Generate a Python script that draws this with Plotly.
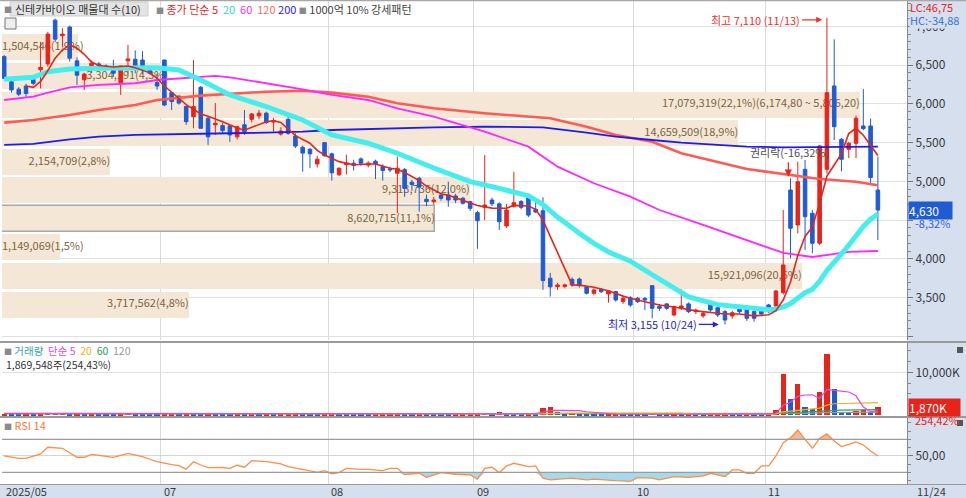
import plotly.graph_objects as go

W, H = 966, 498
FONT = "Noto Sans CJK KR"
RED = "#e8231a"
BLUE = "#1f5bd3"
PANEL = "#d5dfee"

# daily candles, index 0 = last days of 2025/05, last = 11/24
opens = [6610, 6285, 6190, 6230, 6315, 6440, 6515, 7080, 6880, 6990,
         6555, 6310, 6440, 6515, 6490, 6470, 6275, 6555, 6575, 6565,
         6470, 6275, 6565, 6145, 6100, 5965, 5835, 6215, 5815, 5730,
         5720, 5715, 5575, 5730, 5800, 5845, 5880, 5765, 5610, 5800,
         5585, 5440, 5415, 5225, 5500, 5355, 5085, 5215, 5235, 5290,
         5210, 5260, 5190, 5160, 5105, 5155, 4990, 5040, 4770, 4738,
         4825, 4825, 4812, 4782, 4738, 4597, 4665, 4760, 4710, 4425,
         4680, 4740, 4810, 4640, 4622, 3750, 3642, 3645, 3737, 3740,
         3640, 3557, 3608, 3548, 3578, 3450, 3500, 3492, 3490, 3655,
         3385, 3420, 3277, 3363, 3420, 3320, 3265, 3428, 3370, 3320,
         3264, 3393, 3385, 3320, 3350, 3406, 3393, 3565, 4889, 4438,
         5156, 4589, 4202, 5156, 6231, 5543, 5414, 5492, 5715, 5715,
         4889]
highs = [6630, 6335, 6215, 6260, 6340, 6800, 6930, 7100, 6975, 7010,
         6600, 6400, 6560, 6540, 6510, 6570, 6500, 6760, 6690, 6680,
         6490, 6390, 6570, 6150, 6110, 5980, 6565, 6230, 5830, 6010,
         5760, 5730, 5720, 5920, 5880, 5920, 5900, 5820, 5700, 5830,
         5620, 5460, 5430, 5330, 5510, 5370, 5180, 5345, 5280, 5310,
         5260, 5280, 5220, 5190, 5320, 5170, 5020, 5060, 4830, 4800,
         4850, 4996, 4840, 4800, 4750, 4620, 5340, 4790, 4730, 4710,
         5125, 4760, 4820, 4782, 4795, 3820, 3690, 3680, 3760, 3760,
         3650, 3620, 3620, 3600, 3590, 3520, 3520, 3510, 3510, 3660,
         3420, 3430, 3400, 3608, 3440, 3360, 3320, 3440, 3400, 3340,
         3330, 3410, 3400, 3350, 3370, 3420, 3600, 4630, 5040, 5255,
         5276, 4630, 5470, 7110, 6833, 5560, 5510, 5850, 6190, 5810,
         5320]
lows = [6320, 6145, 6100, 6090, 6240, 6200, 6480, 6800, 6730, 6545,
        6245, 6180, 6400, 6440, 6440, 6350, 6115, 6395, 6395, 6390,
        6380, 6180, 5970, 5920, 5990, 5730, 5685, 5680, 5470, 5600,
        5620, 5510, 5540, 5600, 5760, 5800, 5740, 5640, 5590, 5600,
        5430, 5125, 5170, 5180, 5320, 5010, 5070, 5090, 5140, 5200,
        5180, 5030, 5010, 5120, 4590, 4800, 4880, 4610, 4680, 4700,
        4750, 4674, 4720, 4700, 4620, 4130, 4500, 4680, 4373, 4400,
        4660, 4640, 4540, 4590, 3600, 3513, 3600, 3620, 3640, 3630,
        3540, 3530, 3560, 3435, 3450, 3420, 3380, 3430, 3341, 3234,
        3330, 3340, 3260, 3340, 3300, 3290, 3240, 3320, 3250, 3155,
        3230, 3290, 3200, 3190, 3260, 3300, 3320, 3540, 4008, 4330,
        4115, 4073, 4180, 5100, 5534, 5130, 5300, 5300, 5660, 4980,
        4244]
closes = [6330, 6180, 6125, 6135, 6265, 6470, 6900, 6835, 6900, 6590,
          6370, 6385, 6525, 6470, 6455, 6395, 6490, 6580, 6470, 6470,
          6395, 6230, 5985, 6030, 6010, 5770, 5965, 5685, 5575, 5750,
          5655, 5600, 5705, 5640, 5870, 5880, 5760, 5785, 5650, 5620,
          5455, 5365, 5355, 5285, 5330, 5110, 5170, 5235, 5205, 5235,
          5235, 5225, 5140, 5150, 5170, 4910, 4960, 4925, 4740, 4760,
          4782, 4760, 4760, 4718, 4653, 4493, 4695, 4710, 4480, 4630,
          4725, 4665, 4565, 4605, 3720, 3640, 3664, 3665, 3664, 3655,
          3557, 3600, 3578, 3586, 3470, 3492, 3405, 3448, 3470, 3363,
          3363, 3363, 3385, 3393, 3320, 3340, 3300, 3341, 3277, 3212,
          3306, 3320, 3234, 3234, 3290, 3320, 3586, 3922, 4395, 4996,
          4545, 4202, 5457, 6145, 5706, 5285, 5492, 5814, 5680, 5050,
          4630]
# volume in thousand shares
volumes = [420, 380, 300, 350, 280, 450, 520, 480, 500, 400,
           450, 320, 400, 300, 260, 250, 380, 520, 330, 300,
           280, 240, 420, 420, 300, 450, 380, 350, 380, 300,
           250, 240, 300, 260, 280, 220, 240, 200, 230, 260,
           300, 280, 240, 220, 260, 380, 300, 220, 180, 170,
           160, 190, 200, 210, 420, 380, 240, 260, 200, 180,
           170, 160, 190, 200, 230, 350, 620, 260, 700, 380,
           300, 280, 360, 220, 1800, 2000, 700, 420, 650, 300,
           260, 220, 200, 240, 260, 200, 190, 180, 170, 520,
           240, 210, 260, 230, 250, 200, 190, 210, 230, 300,
           260, 240, 280, 250, 240, 420, 1160, 9700, 3720, 7200,
           1930, 1400, 5420, 14190, 6200, 800, 650, 900, 1150, 735,
           1870]

# price moving averages (index, value)
ma5_idx = [3, 4, 5, 6, 7, 8, 9, 10, 11, 12, 13, 15, 17, 18, 20, 21, 22, 23, 24, 25,
           27, 28, 30, 31, 32, 33, 34, 36, 37, 38, 40, 41, 42, 43, 44, 46, 47, 48, 50, 51,
           53, 54, 55, 57, 58, 60, 61, 62, 64, 65, 67, 69, 70, 72, 73, 74, 78, 79, 81, 83,
           85, 86, 88, 90, 92, 95, 99, 101, 103, 105, 106, 107, 108, 109, 110, 111, 112, 113, 114, 115,
           116, 117, 118, 119, 120]
ma5_val = [6230, 6214, 6290, 6430, 6588, 6695, 6760, 6717, 6640, 6540, 6495, 6475, 6489, 6465, 6400, 6330, 6230, 6150, 6080, 5990,
           5870, 5840, 5770, 5728, 5690, 5660, 5700, 5770, 5783, 5760, 5590, 5540, 5492, 5400, 5340, 5255, 5234, 5215, 5225, 5225,
           5170, 5156, 5115, 5010, 4940, 4840, 4820, 4790, 4720, 4690, 4655, 4653, 4690, 4683, 4640, 4500, 3665, 3662, 3635, 3590,
           3520, 3492, 3448, 3406, 3380, 3330, 3290, 3290, 3265, 3280, 3333, 3470, 3703, 4044, 4289, 4412, 4719, 5069, 5211, 5359,
           5617, 5688, 5595, 5464, 5333]
ma20_idx = [0, 4, 6, 9, 13, 18, 21, 24, 27, 31, 36, 41, 45, 50, 54, 59, 64, 67, 72, 74,
            76, 79, 81, 83, 86, 90, 94, 98, 102, 105, 106, 107, 108, 109, 110, 111, 112, 113, 114, 115,
            116, 117, 118, 119, 120]
ma20_val = [6317, 6343, 6415, 6450, 6459, 6459, 6467, 6437, 6308, 6115, 5964, 5792, 5599, 5492, 5363, 5173, 4996, 4932, 4815, 4700,
            4540, 4330, 4200, 4090, 3970, 3740, 3510, 3410, 3370, 3345, 3354, 3380, 3425, 3505, 3565, 3607, 3712, 3850, 3969, 4066,
            4176, 4300, 4420, 4512, 4580]
ma60_idx = [0, 4, 6, 9, 13, 18, 21, 27, 29, 31, 36, 41, 45, 50, 54, 59, 66, 72, 76, 81,
            86, 90, 96, 102, 107, 111, 116, 120]
ma60_val = [6050, 6093, 6145, 6214, 6244, 6266, 6308, 6351, 6360, 6343, 6266, 6188, 6115, 6050, 5943, 5835, 5641, 5448, 5190, 4976,
            4803, 4631, 4438, 4244, 4077, 4025, 4090, 4102]
ma120_idx = [0, 4, 9, 13, 18, 21, 27, 31, 36, 41, 45, 50, 54, 59, 66, 75, 80, 84, 89, 93,
             98, 102, 108, 112, 117, 120]
ma120_val = [5758, 5792, 5857, 5921, 5986, 6050, 6106, 6128, 6157, 6170, 6145, 6093, 6008, 5943, 5879, 5814, 5706, 5599, 5512, 5363,
             5254, 5160, 5083, 5030, 4996, 4950]
ma200_idx = [0, 4, 9, 13, 18, 22, 27, 31, 36, 41, 45, 50, 54, 59, 66, 74, 80, 84, 89, 93,
             98, 102, 107, 111, 114, 120]
ma200_val = [5470, 5483, 5543, 5577, 5599, 5608, 5621, 5621, 5629, 5641, 5663, 5676, 5685, 5698, 5706, 5698, 5629, 5577, 5534, 5500,
             5470, 5448, 5440, 5440, 5448, 5448]

# volume moving averages (K)
vma5_idx = [0, 20, 40, 60, 70, 73, 74, 75, 76, 78, 79, 80, 84, 90, 100, 104, 105, 106, 107, 108,
            109, 110, 111, 112, 113, 114, 115, 116, 117, 118, 119, 120]
vma5_val = [450, 380, 260, 190, 330, 390, 720, 1120, 1170, 1240, 1110, 840, 280, 260, 250, 250, 290, 480, 2370, 3050,
            4440, 4740, 4790, 3930, 6030, 5830, 5600, 5450, 4550, 1940, 850, 1060]
vma20_idx = [0, 30, 60, 73, 74, 75, 78, 93, 95, 105, 106, 107, 108, 109, 110, 112, 113, 114, 120]
vma20_val = [450, 380, 250, 280, 360, 450, 500, 500, 290, 290, 330, 800, 980, 1330, 1420, 1700, 2400, 2700, 2950]
vma60_idx = [0, 60, 105, 107, 110, 113, 115, 120]
vma60_val = [420, 300, 360, 520, 760, 1100, 1200, 1330]
vma120_idx = [0, 105, 110, 113, 120]
vma120_val = [380, 350, 470, 640, 730]

# RSI 14
rsi_idx = [0, 2, 3, 5, 6, 8, 10, 11, 12, 13, 15, 17, 19, 20, 21, 23, 24, 25, 26, 27,
           28, 30, 31, 32, 33, 34, 36, 38, 39, 42, 43, 44, 45, 46, 47, 49, 50, 52, 53, 54,
           55, 57, 58, 60, 62, 64, 65, 66, 67, 68, 69, 70, 71, 72, 73, 74, 75, 76, 78, 80,
           81, 84, 86, 87, 89, 90, 92, 94, 96, 97, 98, 99, 100, 101, 102, 103, 104, 105, 106, 107,
           108, 109, 110, 111, 112, 113, 114, 115, 116, 117, 118, 119, 120]
rsi_val = [50, 47, 47, 52.4, 60.5, 59.3, 48.4, 48.4, 52, 50.8, 48.4, 53.2, 49.2, 46, 43, 39.5, 38.3, 34, 43, 39,
           35.8, 36, 35, 38.7, 36.3, 44.3, 43, 40.3, 37, 31.8, 30.2, 32.2, 28.2, 29.8, 35, 33.8, 33.8, 32.2, 35, 35,
           27.3, 29, 24.2, 29.8, 27.8, 27, 21.8, 35, 36.3, 29.8, 37.9, 41.1, 39, 37, 38, 23, 21, 21.8, 23, 21,
           22, 20, 19.3, 23.7, 23, 21, 25, 24, 25.8, 29, 27, 25, 33, 33, 29, 29, 37.9, 38, 50, 66,
           72, 81.5, 70, 59.3, 71.4, 76.7, 68, 61.3, 64, 67, 63.3, 56, 50]

# 매물대 (10 price bins)
pv_lower = [3226.0, 3594.6, 3963.2, 4331.8, 4700.4, 5069.0, 5437.6, 5806.2, 6174.8, 6543.4]
pv_volume = [3717562, 15921096, 1149069, 8620715, 9313736, 2154709, 14659509, 17079319, 3304191, 1504546]
pv_pct = [4.8, 20.6, 1.5, 11.1, 12.0, 2.8, 18.9, 22.1, 4.3, 1.9]
pv_current = 3

month_first = [22, 45, 65, 87, 105]
month_names = ["07", "08", "09", "10", "11"]

n = len(closes)
xs = list(range(n))
pv_step = pv_lower[1] - pv_lower[0]
pv_max = max(pv_volume)


def kr(v, nd=2):
    return f"{v:,.{nd}f}".replace(",", "#").replace(".", ",").replace("#", ",")


def py(px):
    return 1 - px / H


def pxx(px):
    return px / W


fig = go.Figure()

# volume profile on the base subplot
pv_mid = [lo + pv_step / 2 for lo in pv_lower]
pv_text = []
for k, (v, p) in enumerate(zip(pv_volume, pv_pct)):
    t = f"{v:,}({kr(p, 1)}%)"
    if k == pv_volume.index(pv_max):
        t += f"({kr(pv_lower[k] + pv_step)} ~ {kr(pv_lower[k])})"
    pv_text.append(t)
fig.add_trace(go.Bar(
    x=pv_volume, y=pv_mid, orientation="h", width=pv_step * 0.91, base=0,
    marker=dict(color="#f5e7d5",
                line=dict(color=["#a8a8a8" if k == pv_current else "#f5e7d5" for k in range(len(pv_volume))],
                          width=[1.5 if k == pv_current else 0 for k in range(len(pv_volume))])),
    xaxis="x", yaxis="y", hoverinfo="skip"))
short = [v / pv_max < 0.11 for v in pv_volume]
fig.add_trace(go.Scatter(
    x=[0 if s else v for v, s in zip(pv_volume, short)], y=pv_mid, mode="text", text=pv_text,
    textposition=["middle right" if s else "middle left" for s in short],
    textfont=dict(family=FONT, size=11, color="#7b6544"),
    xaxis="x", yaxis="y", hoverinfo="skip", cliponaxis=False))

# moving averages + candles on the overlay subplot
for idx, val, col, wd in [(ma120_idx, ma120_val, "#ff5b52", 2.6),
                          (ma200_idx, ma200_val, "#1b1bf5", 1.8),
                          (ma60_idx, ma60_val, "#ff26ff", 1.8),
                          (ma20_idx, ma20_val, "#45eeee", 5)]:
    fig.add_trace(go.Scatter(x=idx, y=val, mode="lines", line=dict(color=col, width=wd),
                             xaxis="x5", yaxis="y", hoverinfo="skip"))
fig.add_trace(go.Candlestick(
    x=xs, open=opens, high=highs, low=lows, close=closes,
    increasing=dict(line=dict(color=RED, width=1), fillcolor=RED),
    decreasing=dict(line=dict(color=BLUE, width=1), fillcolor=BLUE),
    whiskerwidth=0, xaxis="x5", yaxis="y", hoverinfo="skip"))
fig.add_trace(go.Scatter(x=ma5_idx, y=ma5_val, mode="lines", line=dict(color=RED, width=1.6),
                         xaxis="x5", yaxis="y", hoverinfo="skip"))

# volume panel
vcol = [RED if i == 0 or volumes[i] >= volumes[i - 1] else BLUE for i in range(n)]
fig.add_trace(go.Bar(x=xs, y=volumes, marker=dict(color=vcol, line=dict(width=0)), width=0.72,
                     xaxis="x2", yaxis="y2", hoverinfo="skip"))
for idx, val, col in [(vma120_idx, vma120_val, "#9a9a9a"), (vma60_idx, vma60_val, "#2f9e5c"),
                      (vma20_idx, vma20_val, "#f2b126"), (vma5_idx, vma5_val, "#e048d8")]:
    fig.add_trace(go.Scatter(x=idx, y=val, mode="lines", line=dict(color=col, width=1.2),
                             xaxis="x2", yaxis="y2", hoverinfo="skip"))

# RSI panel
fig.add_trace(go.Scatter(x=rsi_idx, y=[70] * len(rsi_idx), mode="lines", line=dict(width=0),
                         xaxis="x3", yaxis="y3", hoverinfo="skip"))
fig.add_trace(go.Scatter(x=rsi_idx, y=[max(v, 70) for v in rsi_val], mode="lines", line=dict(width=0),
                         fill="tonexty", fillcolor="#f3b898", xaxis="x3", yaxis="y3", hoverinfo="skip"))
fig.add_trace(go.Scatter(x=rsi_idx, y=[30] * len(rsi_idx), mode="lines", line=dict(width=0),
                         xaxis="x3", yaxis="y3", hoverinfo="skip"))
fig.add_trace(go.Scatter(x=rsi_idx, y=[min(v, 30) for v in rsi_val], mode="lines", line=dict(width=0),
                         fill="tonexty", fillcolor="#a5daee", xaxis="x3", yaxis="y3", hoverinfo="skip"))
fig.add_trace(go.Scatter(x=rsi_idx, y=rsi_val, mode="lines", line=dict(color="#ff8d45", width=1.3),
                         xaxis="x3", yaxis="y3", hoverinfo="skip"))

xdom = [pxx(2), pxx(907)]
xr = [-0.3, 124.0]
bounds = [m - 0.5 for m in month_first]
grid = "#dadada"
tickfont = dict(family=FONT, size=12, color="#3a3a3a")
common_x = dict(domain=xdom, range=xr, tickvals=bounds, showgrid=True, gridcolor=grid, gridwidth=1,
                showticklabels=False, ticks="", zeroline=False, showline=False)
common_y = dict(side="right", ticks="outside", ticklen=5, tickcolor="#777", showline=True,
                linecolor="#8a8a8a", linewidth=1, tickfont=tickfont, zeroline=False, gridcolor="#e0e0e0")

price_ticks = [3000, 3500, 4000, 4500, 5000, 5500, 6000, 6500, 7000]
price_text = ["" if t in (3000, 4500) else f"{t:,}" for t in price_ticks]

fig.update_layout(
    width=W, height=H, margin=dict(l=0, r=0, t=0, b=0),
    paper_bgcolor="white", plot_bgcolor="white", showlegend=False, hovermode=False,
    bargap=0,
    xaxis=dict(domain=xdom, range=[0, pv_max * 1.055], visible=False, anchor="y", fixedrange=True),
    xaxis5=dict(common_x, overlaying="x", anchor="y", rangeslider=dict(visible=False)),
    yaxis=dict(common_y, domain=[py(340), py(1)], range=[2954, 7327], anchor="x",
               tickvals=price_ticks, ticktext=price_text,
               minor=dict(dtick=100, ticklen=3, tickcolor="#888", ticks="outside", showgrid=False)),
    xaxis2=dict(common_x, anchor="y2"),
    yaxis2=dict(common_y, domain=[py(416), py(343)], range=[-150, 16860], anchor="x2",
                tickvals=[10000], ticktext=["10,000K"],
                minor=dict(dtick=2500, ticklen=3, tickcolor="#888", ticks="outside", showgrid=False)),
    xaxis3=dict(common_x, anchor="y3"),
    yaxis3=dict(common_y, domain=[py(484), py(418)], range=[16, 96], anchor="x3",
                tickvals=[50], ticktext=["50,00"], gridcolor="#d4d4d4",
                minor=dict(dtick=10, ticklen=3, tickcolor="#888", ticks="outside", showgrid=False)),
)

shapes = [
    dict(type="rect", xref="paper", yref="paper", x0=pxx(907), x1=1, y0=0, y1=1,
         fillcolor=PANEL, line=dict(width=0), layer="below"),
    dict(type="rect", xref="paper", yref="paper", x0=0, x1=1, y0=0, y1=py(484),
         fillcolor=PANEL, line=dict(width=0), layer="below"),
    dict(type="line", xref="paper", yref="paper", x0=0, x1=1, y0=py(0.5), y1=py(0.5),
         line=dict(color="#a8a8a8", width=1.5)),
    dict(type="line", xref="paper", yref="paper", x0=0, x1=1, y0=py(342), y1=py(342),
         line=dict(color="#9a9a9a", width=2)),
    dict(type="line", xref="paper", yref="paper", x0=0, x1=1, y0=py(417), y1=py(417),
         line=dict(color="#9a9a9a", width=2)),
    dict(type="line", xref="paper", yref="paper", x0=0, x1=1, y0=py(484.5), y1=py(484.5),
         line=dict(color="#9a9a9a", width=1)),
    dict(type="line", xref="paper", yref="y3", x0=xdom[0], x1=xdom[1], y0=70, y1=70,
         line=dict(color="#9c9c9c", width=1.2)),
    dict(type="line", xref="paper", yref="y3", x0=xdom[0], x1=xdom[1], y0=30, y1=30,
         line=dict(color="#9c9c9c", width=1.2)),
    # small header icon and panel close boxes
    dict(type="rect", xref="paper", yref="paper", x0=pxx(5), x1=pxx(16), y0=py(29), y1=py(18),
         fillcolor="#eeeeee", line=dict(color="#777", width=1)),
    dict(type="rect", xref="paper", yref="paper", x0=pxx(10), x1=pxx(148), y0=py(16), y1=py(2),
         fillcolor="#e4e4e4", line=dict(color="#cfcfcf", width=1), layer="below"),
    dict(type="rect", xref="paper", yref="paper", x0=pxx(957), x1=pxx(963), y0=py(353), y1=py(347),
         fillcolor="#555", line=dict(width=0)),
    dict(type="rect", xref="paper", yref="paper", x0=pxx(957), x1=pxx(963), y0=py(426), y1=py(420),
         fillcolor="#555", line=dict(width=0)),
]
fig.update_layout(shapes=shapes)

ann = []


def text(x, y, s, color="#333", size=11, anchor="left", xref="paper", yref="paper", **kw):
    ann.append(dict(x=x, y=y, xref=xref, yref=yref, text=s, showarrow=False, xanchor=anchor,
                    yanchor="middle", font=dict(family=FONT, size=size, color=color), **kw))


sq = '<span style="color:#8a8a8a;font-size:8px">■</span>'
text(pxx(2), py(9), sq, size=8)
text(pxx(13), py(9), "신테카바이오 매물대 수(10)", color="#333", size=11)
text(pxx(154), py(9),
     sq + ' <span style="color:#e8231a">종가 단순 5</span>  <span style="color:#35d8e0">20</span>'
     '  <span style="color:#ff2cff">60</span>  <span style="color:#ff6a60">120</span>'
     ' <span style="color:#1b1bf5">200</span> ' + sq + ' <span style="color:#444">1000억 10% 강세패턴</span>',
     size=11)
text(pxx(2), py(350.5), sq + ' <span style="color:#3aa3a8">거래량</span>  <span style="color:#e048d8">단순 5</span>'
     '  <span style="color:#f2b126">20</span>  <span style="color:#2f9e5c">60</span>'
     '  <span style="color:#999">120</span>', size=10.5)
text(pxx(4), py(364), "1,869,548주(254,43%)", color="#333", size=10.5)
text(pxx(2), py(425), sq + ' <span style="color:#ff7a30">RSI 14</span>', size=11)

# x axis labels
text(xr[0], py(491), "2025/05", xref="x3", color="#3a3a3a", size=11, xshift=2)
for b, m in zip(bounds, month_names):
    text(b, py(491), m, xref="x3", color="#3a3a3a", size=11, xshift=1)
text(pxx(931), py(491), "11/24", anchor="center", color="#3a3a3a", size=11)

# right axis tags
text(pxx(909), py(19.5), "HC:-34,88", color="#3b6fe0", size=11, bgcolor=PANEL, borderpad=0)
text(pxx(909), py(7), "LC:46,75", color="#e8231a", size=11, borderpad=0)
prev_close = closes[-2]
last = closes[-1]
text(pxx(908), last, f"{last:,}" + "&nbsp;" * 5, yref="y", color="white", size=12,
     bgcolor="#1f5bd3", borderpad=0)
text(pxx(913), last, f"{(last / prev_close - 1) * 100:.2f}%".replace(".", ","), yref="y",
     color="#2f62dc", size=11, yshift=-13)
text(pxx(908), volumes[-1], f"{volumes[-1]:,}K" + "&nbsp;" * 5, yref="y2", color="white", size=12,
     bgcolor="#e8231a", borderpad=0)
text(pxx(913), volumes[-1], f"{volumes[-1] / volumes[-2] * 100:.2f}%".replace(".", ","), yref="y2",
     color="#e8231a", size=11, yshift=-13)

# high / low / ex-rights marks
hi_i = highs.index(max(highs))
lo_i = lows.index(min(lows))
ann.append(dict(x=hi_i - 0.65, y=max(highs), xref="x5", yref="y", ax=-20, ay=0, axref="pixel", ayref="pixel",
                text=f"최고 {max(highs):,} (11/13)", showarrow=True, arrowhead=2, arrowsize=1, arrowwidth=1.2,
                arrowcolor="#f0302a", xanchor="right", yshift=-2,
                font=dict(family=FONT, size=11, color="#f0302a")))
ann.append(dict(x=lo_i - 0.85, y=min(lows), xref="x5", yref="y", ax=-20, ay=0,
                text=f"최저 {min(lows):,} (10/24)", showarrow=True, arrowhead=2, arrowsize=1, arrowwidth=1.2,
                arrowcolor="#2424e0", xanchor="right",
                font=dict(family=FONT, size=11, color="#2424e0")))
ann.append(dict(x=107.7, y=highs[108] + 20, xref="x5", yref="y", ax=0, ay=-16, text="",
                showarrow=True, arrowhead=2, arrowsize=1.2, arrowwidth=1.2, arrowcolor="#e8231a"))
text(107.9, 5380, "권리락(-16,32%)", xref="x5", yref="y", anchor="center", color="#505050", size=11)

fig.update_layout(annotations=ann)
fig.write_html("out.html", config={"displayModeBar": False},
               post_script="document.body.style.margin='0px';")
